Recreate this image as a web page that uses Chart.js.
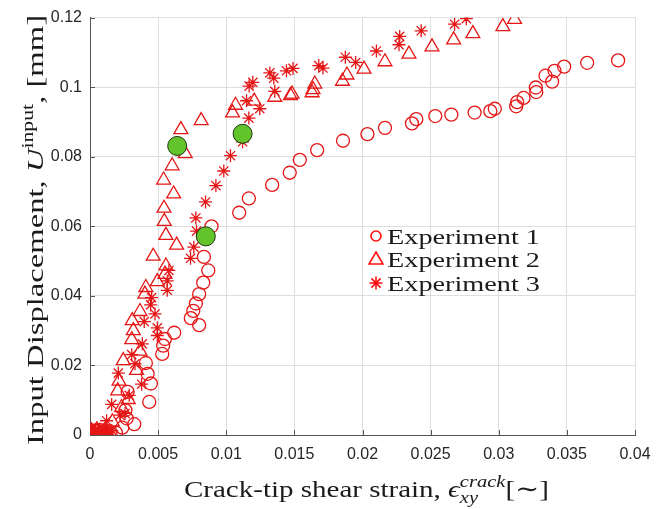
<!DOCTYPE html>
<html>
<head>
<meta charset="utf-8">
<script src="https://cdn.jsdelivr.net/npm/chart.js@4.4.1/dist/chart.umd.min.js"></script>
<style>
html,body{margin:0;padding:0;background:#fff;}
#wrap{width:664px;height:509px;position:relative;}
</style>
</head>
<body>
<div id="wrap"><canvas id="c" width="664" height="509"></canvas></div>
<script>
// ---- Data ----
const exp1X = [0.0002,0.0005,0.0008,0.001,0.0012,0.0015,0.0003,0.0007,0.0011,0.0004,0.0019,0.00237,0.00325,0.00269,0.0026,0.00435,0.00276,0.00447,0.00423,0.0041,0.0053,0.00537,0.0055,0.00618,0.00801,0.0074,0.00758,0.00777,0.00801,0.00831,0.00868,0.00836,0.00892,0.01095,0.01166,0.01337,0.01466,0.0154,0.01667,0.01857,0.02036,0.02165,0.02363,0.02395,0.02534,0.02652,0.02823,0.02938,0.02971,0.03128,0.03135,0.03182,0.03275,0.03272,0.03392,0.03343,0.03409,0.0348,0.03649,0.03876];
const exp1Y = [0.0005,0.001,0.0003,0.0008,0.0012,0.0004,0.0002,0.0015,0.0003,0.0013,0.0007,0.0021,0.0031,0.0048,0.0071,0.0095,0.0124,0.0148,0.0176,0.0207,0.0233,0.0257,0.0276,0.0294,0.0316,0.0336,0.0357,0.0378,0.0405,0.0438,0.0473,0.0512,0.06,0.0639,0.068,0.0719,0.0754,0.0791,0.0819,0.0846,0.0865,0.0883,0.0896,0.0908,0.0917,0.0921,0.0927,0.0931,0.0938,0.0945,0.0957,0.0969,0.0986,0.0999,0.1016,0.1033,0.1047,0.1059,0.107,0.1077];

const exp2X = [0.0002,0.0005,0.0008,0.0011,0.0004,0.0007,0.0013,0.0001,0.00164,0.00232,0.00281,0.00203,0.00213,0.00342,0.00244,0.00367,0.00306,0.00318,0.0031,0.00367,0.00403,0.0041,0.00494,0.0055,0.00557,0.00464,0.00636,0.00557,0.00545,0.00543,0.00614,0.0054,0.00603,0.00699,0.00667,0.00816,0.01046,0.01068,0.01205,0.01356,0.01471,0.01483,0.0163,0.01637,0.0165,0.01853,0.01886,0.02011,0.02165,0.02341,0.0251,0.02669,0.0281,0.0303,0.03116];
const exp2Y = [0.0008,0.0015,0.0005,0.0012,0.0002,0.0009,0.0006,0.0012,0.0038,0.0079,0.0102,0.0127,0.0155,0.0186,0.0214,0.0241,0.0274,0.03,0.0329,0.0355,0.0405,0.0424,0.0441,0.0462,0.0486,0.0514,0.0546,0.0574,0.0614,0.0652,0.0693,0.0733,0.0774,0.0809,0.0878,0.0904,0.0926,0.0948,0.096,0.0971,0.0976,0.098,0.0984,0.0993,0.1009,0.1017,0.1035,0.1052,0.1073,0.1095,0.1116,0.1136,0.1154,0.1174,0.1195];

const exp3X = [0.0002,0.0006,0.0009,0.0012,0.0014,0.0004,0.0008,0.0011,0.0016,0.00122,0.0022,0.00257,0.00159,0.00288,0.00379,0.00208,0.0033,0.00306,0.00384,0.00494,0.00494,0.00398,0.00477,0.00445,0.00452,0.00567,0.00567,0.00579,0.00738,0.00762,0.00782,0.00777,0.00848,0.00924,0.00982,0.01031,0.0112,0.01166,0.01246,0.01149,0.01356,0.01168,0.01195,0.01349,0.0132,0.01442,0.0149,0.0171,0.01679,0.0195,0.01874,0.02102,0.02268,0.02273,0.02431,0.02676,0.02762];
const exp3Y = [0.0006,0.0012,0.0004,0.0018,0.0008,0.0016,0.0009,0.0002,0.0013,0.0041,0.0057,0.0062,0.0088,0.0114,0.0146,0.0178,0.0205,0.0231,0.0262,0.0286,0.0308,0.0326,0.0348,0.0374,0.0395,0.0416,0.0443,0.0473,0.0508,0.054,0.0586,0.0624,0.067,0.0717,0.0759,0.0803,0.0843,0.0911,0.0938,0.0961,0.0988,0.1003,0.1014,0.1026,0.1041,0.1047,0.1054,0.1055,0.1062,0.1071,0.1086,0.1104,0.1122,0.1146,0.1162,0.1181,0.1197];

const markX = [0.0064,0.0112,0.0085];
const markY = [0.0831,0.0866,0.0571];

const xTickLabels = ['0','0.005','0.01','0.015','0.02','0.025','0.03','0.035','0.04'];
const yTickLabels = ['0','0.02','0.04','0.06','0.08','0.1','0.12'];
const seriesNames = ['Experiment 1','Experiment 2','Experiment 3'];

const pts = (xs, ys) => xs.map((x, i) => ({x: x, y: ys[i]}));
const RED = 'rgb(230,22,22)';

function serif(r){ return (r.italic ? 'italic ' : '') + r.size + 'px "Liberation Serif","Times New Roman","DejaVu Serif",serif'; }
function runW(ctx, r){ ctx.font = serif(r); return ctx.measureText(r.t).width; }
function totalW(ctx, runs){
  let w = 0;
  for (const r of runs) w += r.stack ? Math.max(...r.stack.map(s => runW(ctx, s))) : runW(ctx, r);
  return w;
}
function drawRuns(ctx, runs, x, y, target){
  const w = totalW(ctx, runs);
  const sx = target ? target / w : 1;
  ctx.save();
  ctx.translate(x, y);
  ctx.scale(sx, 1);
  ctx.fillStyle = '#1a1a1a';
  ctx.textAlign = 'left';
  ctx.textBaseline = 'alphabetic';
  let cx = 0;
  for (const r of runs){
    if (r.stack){
      let m = 0;
      for (const s of r.stack){ ctx.font = serif(s); ctx.fillText(s.t, cx, s.dy || 0); m = Math.max(m, ctx.measureText(s.t).width); }
      cx += m;
    } else {
      ctx.font = serif(r); ctx.fillText(r.t, cx, r.dy || 0); cx += ctx.measureText(r.t).width;
    }
  }
  ctx.restore();
}

function marker(ctx, style, x, y, r){
  ctx.beginPath();
  if (style === 'circle'){
    ctx.arc(x, y, r, 0, Math.PI * 2);
  } else if (style === 'triangle'){
    for (let k = 0; k < 3; k++){
      const a = k * 2 * Math.PI / 3;
      const px = x + Math.sin(a) * r, py = y - Math.cos(a) * r;
      if (k === 0) ctx.moveTo(px, py); else ctx.lineTo(px, py);
    }
    ctx.closePath();
  } else {
    for (let k = 0; k < 4; k++){
      const a = k * Math.PI / 4;
      ctx.moveTo(x - Math.cos(a) * r, y - Math.sin(a) * r);
      ctx.lineTo(x + Math.cos(a) * r, y + Math.sin(a) * r);
    }
  }
  ctx.stroke();
}

const decor = {
  id: 'decor',
  beforeDatasetsDraw(chart){
    const ctx = chart.ctx, xs = chart.scales.x, ys = chart.scales.y, a = chart.chartArea;
    ctx.save();
    ctx.strokeStyle = '#555';
    ctx.lineWidth = 1;
    ctx.beginPath();
    xs.ticks.forEach(t => { const p = Math.round(xs.getPixelForValue(t.value)) + 0.5; ctx.moveTo(p, a.bottom); ctx.lineTo(p, a.bottom - 5); });
    ys.ticks.forEach(t => { const p = Math.round(ys.getPixelForValue(t.value)) + 0.5; ctx.moveTo(a.left, p); ctx.lineTo(a.left + 5, p); });
    ctx.stroke();
    ctx.restore();
  },
  afterDraw(chart){
    const ctx = chart.ctx;
    // x title
    drawRuns(ctx, [
      {t: 'Crack-tip shear strain, ', size: 24},
      {t: 'ϵ', size: 24, italic: true},
      {stack: [{t: 'crack', size: 17, italic: true, dy: -10}, {t: 'xy', size: 17, italic: true, dy: 6}]},
      {t: '[∼]', size: 24}
    ], 184, 497, 365);
    // y title (rotated)
    ctx.save();
    ctx.translate(43, 445);
    ctx.rotate(-Math.PI / 2);
    drawRuns(ctx, [
      {t: 'Input Displacement, ', size: 24},
      {t: 'U', size: 24, italic: true},
      {t: 'input', size: 16, dy: -10},
      {t: ', [mm]', size: 24}
    ], 0, 0, 430);
    ctx.restore();
    // legend
    const styles = ['circle', 'triangle', 'star'];
    const radii = [5, 8, 6.5];
    const rowsY = [236, 259, 283];
    ctx.save();
    ctx.strokeStyle = '#ff1010';
    ctx.lineWidth = 1.6;
    for (let i = 0; i < 3; i++){
      marker(ctx, styles[i], 376, rowsY[i] + (i === 1 ? 1 : 0), radii[i]);
      drawRuns(ctx, [{t: seriesNames[i], size: 22}], 387, rowsY[i] + 8, 153);
    }
    ctx.restore();
  }
};

new Chart(document.getElementById('c'), {
  type: 'scatter',
  data: {
    datasets: [
      {label: 'marks', data: pts(markX, markY), pointStyle: 'circle', pointRadius: 9.5, pointHoverRadius: 9.5,
       backgroundColor: '#62c42a', borderColor: '#1f3312', borderWidth: 1, order: 0},
      {label: seriesNames[2], data: pts(exp3X, exp3Y), pointStyle: 'star', pointRadius: 6.5, pointHoverRadius: 6.5,
       backgroundColor: 'transparent', borderColor: RED, borderWidth: 1.3, order: 1},
      {label: seriesNames[1], data: pts(exp2X, exp2Y), pointStyle: 'triangle', pointRadius: 8, pointHoverRadius: 8,
       backgroundColor: 'transparent', borderColor: RED, borderWidth: 1.3, order: 2},
      {label: seriesNames[0], data: pts(exp1X, exp1Y), pointStyle: 'circle', pointRadius: 6.5, pointHoverRadius: 6.5,
       backgroundColor: 'transparent', borderColor: RED, borderWidth: 1.3, order: 3}
    ]
  },
  options: {
    responsive: false,
    animation: false,
    events: [],
    layout: {padding: {top: 15, right: 29, left: 0, bottom: 0}},
    plugins: {legend: {display: false}, tooltip: {enabled: false}},
    scales: {
      x: {
        type: 'linear', min: 0, max: 0.04,
        afterFit: s => { s.height = 74; },
        grid: {color: '#dedede', drawTicks: false},
        border: {color: '#555', width: 1},
        ticks: {stepSize: 0.005, padding: 10, color: '#262626', maxRotation: 0,
          font: {family: '"Liberation Sans", Arial, sans-serif', size: 16},
          callback: (v, i) => xTickLabels[i]}
      },
      y: {
        type: 'linear', min: 0, max: 0.12,
        afterFit: s => { s.width = 90; },
        grid: {color: '#dedede', drawTicks: false},
        border: {color: '#555', width: 1},
        ticks: {stepSize: 0.02, padding: 8, color: '#262626',
          font: {family: '"Liberation Sans", Arial, sans-serif', size: 16},
          callback: (v, i) => yTickLabels[i]}
      }
    }
  },
  plugins: [decor]
});
</script>
</body>
</html>
